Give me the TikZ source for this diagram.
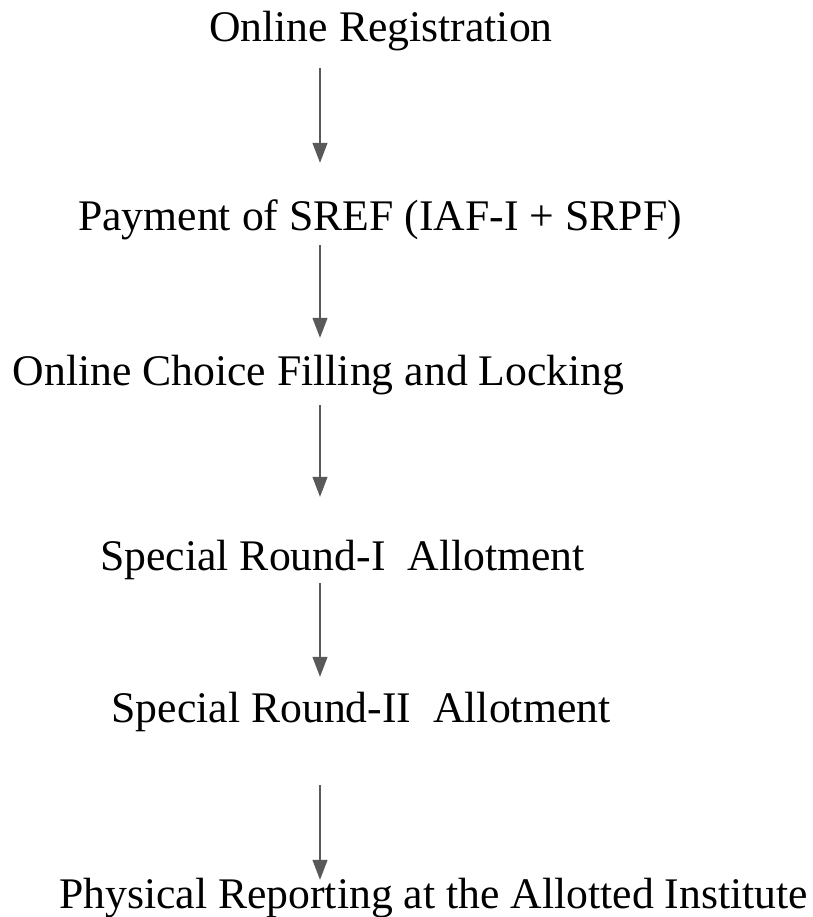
\documentclass[tikz,border=0pt]{standalone}
\usepackage{fontspec}
\setmainfont{Liberation Serif}
\usetikzlibrary{arrows.meta}

\begin{document}
\begin{tikzpicture}[x=1pt,y=1pt,
  stage/.style={inner sep=0pt,anchor=base,text height=32pt,text depth=10pt,font=\fontsize{43.7}{50}\selectfont},
  flow/.style={draw=black!65,line width=1.2pt,-{Triangle[length=20pt,width=15pt]}}]
\useasboundingbox (0,0) rectangle (812,-917);

\node[stage] (reg) at (381,-42) {Online Registration};
\node[stage] (pay) at (380,-230) {Payment of SREF (IAF-I + SRPF)};
\node[stage] (choice) at (318.5,-385) {Online Choice Filling and Locking};
\node[stage] (sr1) at (342.5,-570) {Special Round-I\ \ Allotment};
\node[stage] (sr2) at (361,-722) {Special Round-II\ \ Allotment};
\node[stage] (report) at (433.5,-908) {Physical Reporting at the Allotted Institute};

\coordinate (axis) at (320,0);

\draw[flow,shorten <=16pt,shorten >=35pt] (reg.south -| axis)--(pay.north -| axis);
\draw[flow,shorten <=5pt,shorten >=15pt] (pay.south -| axis)--(choice.north -| axis);
\draw[flow,shorten <=10pt,shorten >=41pt] (choice.south -| axis)--(sr1.north -| axis);
\draw[flow,shorten <=3pt,shorten >=13pt] (sr1.south -| axis)--(sr2.north -| axis);
\draw[flow,shorten <=53pt,shorten >=-4pt] (sr2.south -| axis)--(report.north -| axis);
\end{tikzpicture}
\end{document}
